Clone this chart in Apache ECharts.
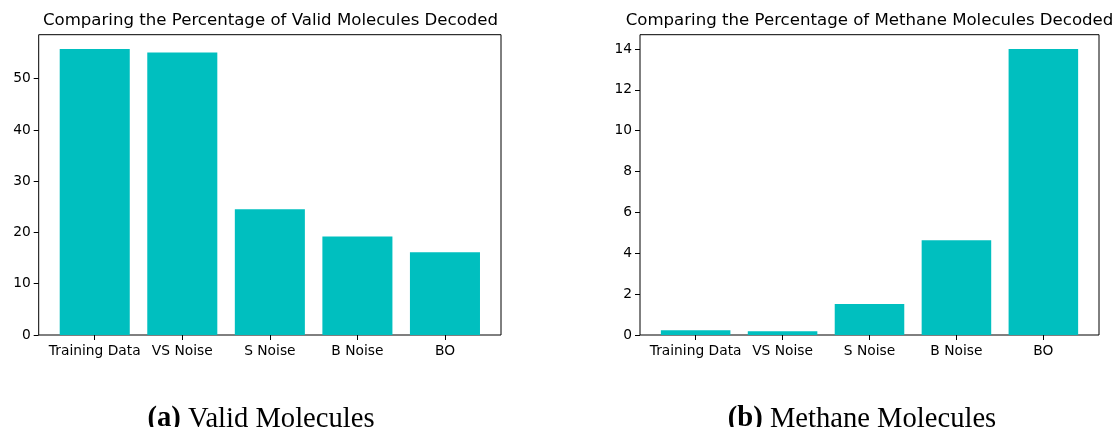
<!DOCTYPE html>
<html>
<head>
<meta charset="utf-8">
<script src="https://cdn.jsdelivr.net/npm/echarts@6/dist/echarts.min.js"></script>
<style>
  html, body { margin: 0; padding: 0; background: #fff; }
  #main { width: 1116px; height: 427px; }
</style>
</head>
<body>
<div id="main"></div>
<script>
// data
const categories = ["Training Data", "VS Noise", "S Noise", "B Noise", "BO"];
const validPct = [55.8, 55.1, 24.55, 19.2, 16.15];
const methanePct = [0.23, 0.18, 1.52, 4.64, 14.0];
const validTicks = [0, 10, 20, 30, 40, 50];
const methaneTicks = [0, 2, 4, 6, 8, 10, 12, 14];

const barColor = "#00bfbf";
const font = "DejaVu Sans";
const plotTop = 34.7, plotHeight = 300.3;

// matplotlib-like y max (5% margin above tallest bar)
const validMax = Math.max(...validPct) * 1.05;
const methaneMax = Math.max(...methanePct) * 1.05;

// frame grids (full axes box) and bar grids (inset by the 0.14 category margin)
function panel(left, width) {
  const unit = width / 5.28;
  return [
    { left: left, top: plotTop, width: width, height: plotHeight, show: true,
      borderColor: "#000", borderWidth: 1, backgroundColor: "transparent" },
    { left: left + 0.14 * unit, top: plotTop, width: unit * 5, height: plotHeight }
  ];
}

const grids = [...panel(38.7, 462.3), ...panel(640, 459)];

function frameY(gridIndex, max, ticks) {
  return {
    gridIndex: gridIndex, type: "value", min: 0, max: max,
    axisLine: { show: false },
    splitLine: { show: false },
    axisTick: { show: true, inside: false, length: 5, customValues: ticks,
      lineStyle: { color: "#000", width: 1 } },
    axisLabel: { show: true, customValues: ticks, margin: 8,
      fontFamily: font, fontSize: 13.8, color: "#000" }
  };
}

function barY(gridIndex, max) {
  return { gridIndex: gridIndex, type: "value", min: 0, max: max, show: false,
    splitLine: { show: false } };
}

function frameX(gridIndex) {
  return { gridIndex: gridIndex, type: "value", min: 0, max: 1, show: false };
}

function barX(gridIndex) {
  return {
    gridIndex: gridIndex, type: "category", data: categories,
    axisLine: { show: false },
    axisTick: { show: true, alignWithLabel: true, length: 5,
      lineStyle: { color: "#000", width: 1 } },
    axisLabel: { margin: 9, fontFamily: font, fontSize: 13.8, color: "#000", interval: 0 },
    splitLine: { show: false }
  };
}

function heading(x, text) {
  return {
    type: "text", x: x, y: 20.5,
    style: { text: text, fontFamily: font, fontSize: 16.6, fill: "#000",
      align: "center", verticalAlign: "middle" }
  };
}

function caption(x, letter, rest) {
  return {
    type: "text", x: x, y: 419,
    style: {
      text: "{b|(" + letter + ")} " + rest,
      fontFamily: "Liberation Serif", fontSize: 28.6, fill: "#000",
      align: "center", verticalAlign: "middle",
      rich: { b: { fontFamily: "Liberation Serif", fontSize: 28.6, fontWeight: "bold", fill: "#000" } }
    }
  };
}

const chart = echarts.init(document.getElementById("main"));
chart.setOption({
  animation: false,
  grid: grids,
  xAxis: [frameX(0), barX(1), frameX(2), barX(3)],
  yAxis: [frameY(0, validMax, validTicks), barY(1, validMax),
          frameY(2, methaneMax, methaneTicks), barY(3, methaneMax)],
  series: [
    { type: "bar", xAxisIndex: 1, yAxisIndex: 1, data: validPct,
      barWidth: "80%", itemStyle: { color: barColor } },
    { type: "bar", xAxisIndex: 3, yAxisIndex: 3, data: methanePct,
      barWidth: "80%", itemStyle: { color: barColor } }
  ],
  graphic: [
    heading(270.5, "Comparing the Percentage of Valid Molecules Decoded"),
    heading(869.5, "Comparing the Percentage of Methane Molecules Decoded"),
    caption(261, "a", "Valid Molecules"),
    caption(862, "b", "Methane Molecules")
  ]
});
</script>
</body>
</html>
